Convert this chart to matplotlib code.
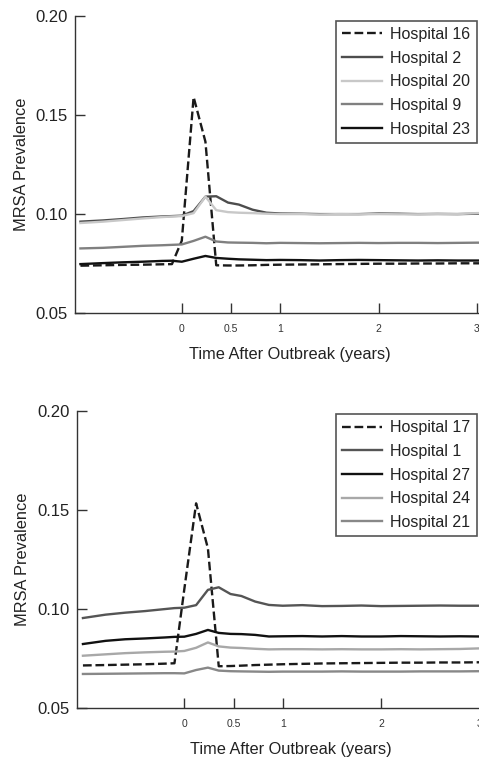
import matplotlib
matplotlib.use("Agg")
import matplotlib.pyplot as plt

plt.rcParams['font.family'] = ['Liberation Sans', 'DejaVu Sans']

times = [-1.03, -0.8, -0.6, -0.4, -0.2, -0.1, 0.0, 0.12, 0.24, 0.35, 0.47, 0.58,
         0.72, 0.86, 1.0, 1.2, 1.4, 1.6, 1.8, 2.0, 2.2, 2.4, 2.6, 2.8, 3.0, 3.3]

# Top panel
top_names = ["Hospital 16", "Hospital 2", "Hospital 20", "Hospital 9", "Hospital 23"]
h16 = [0.0740, 0.0742, 0.0744, 0.0745, 0.0747, 0.0748, 0.0866, 0.1590, 0.1365, 0.0742,
       0.0741, 0.0741, 0.0742, 0.0744, 0.0745, 0.0746, 0.0747, 0.0748, 0.0749, 0.0750,
       0.0750, 0.0751, 0.0751, 0.0752, 0.0752, 0.0752]
h2 = [0.0962, 0.0968, 0.0975, 0.0983, 0.0988, 0.0990, 0.0992, 0.1015, 0.1088, 0.1090,
      0.1058, 0.1048, 0.1022, 0.1007, 0.1003, 0.1002, 0.1000, 0.1000, 0.1000, 0.1003,
      0.1002, 0.1000, 0.1001, 0.1000, 0.1002, 0.1002]
h20 = [0.0955, 0.0962, 0.0970, 0.0978, 0.0985, 0.0988, 0.0990, 0.1005, 0.1088, 0.1020,
       0.1010, 0.1007, 0.1005, 0.1002, 0.1000, 0.1000, 0.0998, 0.1000, 0.0999, 0.1000,
       0.0999, 0.0999, 0.1000, 0.1000, 0.1005, 0.1005]
h9 = [0.0827, 0.0830, 0.0835, 0.0840, 0.0843, 0.0845, 0.0847, 0.0865, 0.0886, 0.0862,
      0.0857, 0.0856, 0.0855, 0.0853, 0.0855, 0.0854, 0.0853, 0.0854, 0.0855, 0.0854,
      0.0855, 0.0855, 0.0854, 0.0855, 0.0856, 0.0856]
h23 = [0.0748, 0.0753, 0.0757, 0.0760, 0.0764, 0.0765, 0.0760, 0.0775, 0.0789, 0.0779,
       0.0775, 0.0772, 0.0770, 0.0768, 0.0769, 0.0768, 0.0766, 0.0768, 0.0769, 0.0768,
       0.0767, 0.0766, 0.0767, 0.0766, 0.0766, 0.0766]
top_series = [h16, h2, h20, h9, h23]
top_colors = ["#1a1a1a", "#4d4d4d", "#c8c8c8", "#808080", "#111111"]
top_styles = ["--", "-", "-", "-", "-"]

# Bottom panel
bot_names = ["Hospital 17", "Hospital 1", "Hospital 27", "Hospital 24", "Hospital 21"]
h17 = [0.0716, 0.0718, 0.0720, 0.0722, 0.0725, 0.0727, 0.1100, 0.1533, 0.1306, 0.0712,
       0.0713, 0.0715, 0.0718, 0.0720, 0.0722, 0.0724, 0.0726, 0.0727, 0.0728, 0.0729,
       0.0730, 0.0730, 0.0731, 0.0731, 0.0732, 0.0732]
h1 = [0.0955, 0.0972, 0.0982, 0.0990, 0.1000, 0.1005, 0.1007, 0.1020, 0.1097, 0.1110,
      0.1076, 0.1066, 0.1038, 0.1021, 0.1017, 0.1020, 0.1015, 0.1016, 0.1018, 0.1015,
      0.1016, 0.1017, 0.1018, 0.1017, 0.1017, 0.1017]
h27 = [0.0824, 0.0840, 0.0848, 0.0852, 0.0857, 0.0860, 0.0861, 0.0875, 0.0895, 0.0880,
       0.0875, 0.0874, 0.0870, 0.0862, 0.0863, 0.0864, 0.0862, 0.0864, 0.0862, 0.0862,
       0.0864, 0.0863, 0.0862, 0.0863, 0.0862, 0.0862]
h24 = [0.0765, 0.0772, 0.0778, 0.0782, 0.0785, 0.0786, 0.0789, 0.0805, 0.0832, 0.0812,
       0.0806, 0.0804, 0.0800, 0.0797, 0.0798, 0.0798, 0.0797, 0.0798, 0.0797, 0.0797,
       0.0798, 0.0797, 0.0798, 0.0799, 0.0802, 0.0802]
h21 = [0.0673, 0.0674, 0.0675, 0.0676, 0.0677, 0.0677, 0.0676, 0.0693, 0.0705, 0.0690,
       0.0687, 0.0686, 0.0685, 0.0684, 0.0685, 0.0685, 0.0685, 0.0686, 0.0685, 0.0685,
       0.0685, 0.0686, 0.0686, 0.0686, 0.0687, 0.0687]
bot_series = [h17, h1, h27, h24, h21]
bot_colors = ["#1a1a1a", "#555555", "#111111", "#a8a8a8", "#888888"]
bot_styles = ["--", "-", "-", "-", "-"]

x_ticks = [0, 0.5, 1, 2, 3]
x_ticklabels = ["0", "0.5", "1", "2", "3"]
y_ticks = [0.05, 0.10, 0.15, 0.20]
y_ticklabels = ["0.05", "0.10", "0.15", "0.20"]

W, H = 479, 764
fig = plt.figure(figsize=(W / 100, H / 100), dpi=100)


def make_panel(rect, xlim, names, series, colors, styles, leg_xy):
    ax = fig.add_axes(rect)
    for name, ys, c, ls in zip(names, series, colors, styles):
        ax.plot(times, ys, color=c, linestyle=ls, linewidth=1.7, label=name)
    ax.set_xlim(*xlim)
    ax.set_ylim(0.05, 0.20)
    ax.set_xticks(x_ticks)
    ax.set_xticklabels(x_ticklabels, fontsize=7.5, color="#333333")
    ax.set_yticks(y_ticks)
    ax.set_yticklabels(y_ticklabels, fontsize=12, color="#222222")
    ax.tick_params(axis="x", direction="in", length=7, width=1, pad=8, color="#333333")
    ax.tick_params(axis="y", direction="in", length=7, width=1, pad=5, color="#333333")
    for s in ("top", "right"):
        ax.spines[s].set_visible(False)
    for s in ("left", "bottom"):
        ax.spines[s].set_linewidth(1.0)
        ax.spines[s].set_color("#333333")
    ax.set_ylabel("MRSA Prevalence", fontsize=11.8, color="#222222", labelpad=5)
    ax.set_xlabel("Time After Outbreak (years)", fontsize=11.8, color="#222222", labelpad=9)
    leg = ax.legend(loc="upper left", bbox_to_anchor=leg_xy, bbox_transform=fig.transFigure,
                    borderaxespad=0, fontsize=11.5, frameon=True, fancybox=False,
                    edgecolor="#2a2a2a", handlelength=2.5, handletextpad=0.5,
                    labelspacing=0.54, borderpad=0.4)
    leg.get_frame().set_linewidth(1.2)
    for t in leg.get_texts():
        t.set_color("#222222")
    return ax


right_px = 505
# top panel
l1 = 75
make_panel([l1 / W, (H - 313.3) / H, (right_px - l1) / W, 297.6 / H],
           ((l1 - 181.8) / 98.4, (right_px - 181.8) / 98.4),
           top_names, top_series, top_colors, top_styles,
           (335.7 / W, 1 - 20.7 / H))
# bottom panel
l2 = 76.7
make_panel([l2 / W, (H - 708.3) / H, (right_px - l2) / W, 297.6 / H],
           ((l2 - 184.3) / 98.4, (right_px - 184.3) / 98.4),
           bot_names, bot_series, bot_colors, bot_styles,
           (335.7 / W, 1 - 414 / H))

fig.savefig("out.png", dpi=100)
